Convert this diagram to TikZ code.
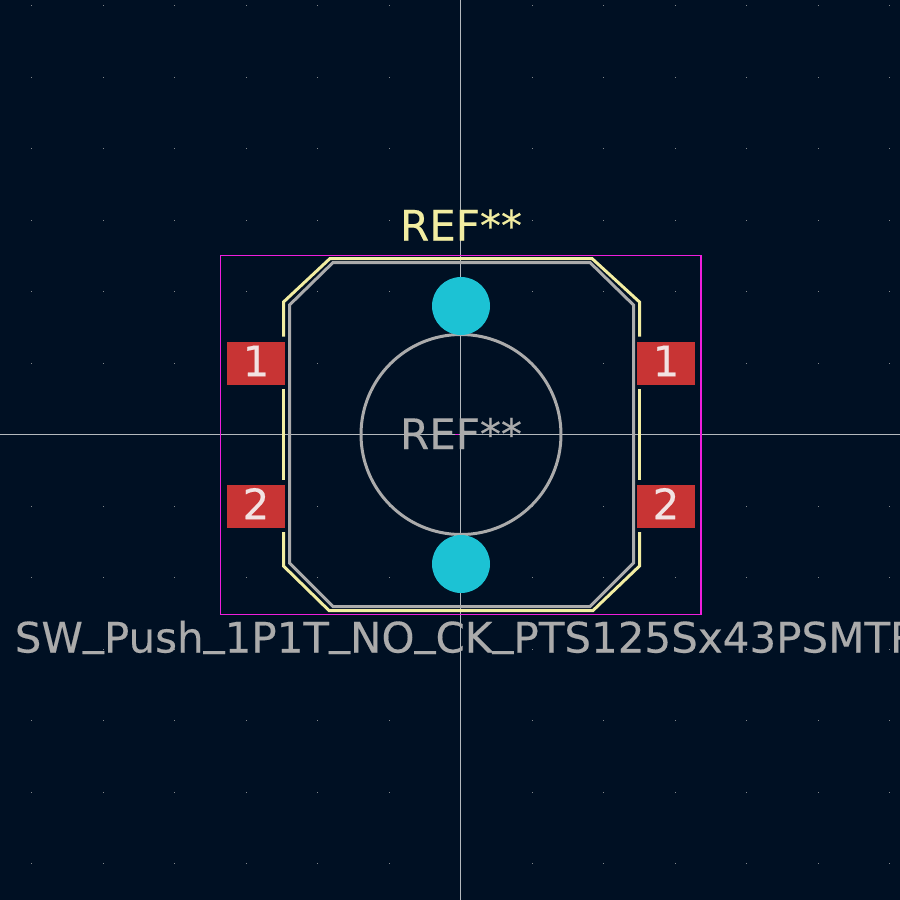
\documentclass[tikz,border=0pt]{standalone}
\usepackage{fontspec}
\setmainfont[FakeBold=0.3]{DejaVu Sans}
\definecolor{boardbg}{HTML}{001023}
\definecolor{silkcol}{HTML}{F2EDA1}
\definecolor{fabcol}{HTML}{ABABAB}
\definecolor{crtcol}{HTML}{F01EDC}
\definecolor{padcol}{HTML}{C83434}
\definecolor{holecol}{HTML}{1CC2D4}
\definecolor{crosscol}{HTML}{B4B9BD}
\definecolor{dotcol}{HTML}{84888C}
\definecolor{padtext}{HTML}{F2E2E2}
\newcommand{\fpbar}{\raisebox{.2em}{\_}}
\tikzset{
  silk/.style={draw=silkcol,line width=3pt,line join=miter},
  fab/.style={draw=fabcol,line width=3pt},
  crt/.style={draw=crtcol,line width=1.2pt},
  hole/.style={fill=holecol},
  padbox/.style={fill=padcol,text=padtext,minimum width=58pt,minimum height=43pt,inner sep=0pt,
    text height=30.6pt,text depth=5.2pt,font=\fontsize{42}{42}\selectfont},
  fptext/.style={anchor=base,inner sep=0pt,font=\fontsize{42}{42}\selectfont},
}
\begin{document}
\begin{tikzpicture}[x=1pt,y=-1pt]
  \useasboundingbox (0,0) rectangle (900,900);
  \clip (0,0) rectangle (900,900);
  \fill[boardbg] (0,0) rectangle (900,900);
  \foreach \i in {-6,...,6}
    \foreach \j in {-6,...,6} {
      \pgfmathsetmacro{\dotx}{ceil(460+71.5*\i)}
      \pgfmathsetmacro{\doty}{ceil(434+71.5*\j)}
      \fill[dotcol] (\dotx,\doty) rectangle ++(1,1);
    }
  \draw[crosscol,line width=1pt] (460.5,0) -- (460.5,900);
  \draw[crosscol,line width=1pt] (0,434.5) -- (900,434.5);
  \draw[crt] (220.5,255.5) rectangle (701,614.5);
  \draw[crtcol,line width=1pt] (455,434.5) -- (459,434.5);
  \draw[fab] (333,262.5) -- (590,262.5) -- (633.5,305) -- (633.5,563) -- (590,606.5)
    -- (333,606.5) -- (289.5,563) -- (289.5,305) -- cycle;
  \draw[fab] (461,434.5) circle (100);
  \draw[silk] (283.5,336.5) -- (283.5,302) -- (330,258.5) -- (592,258.5) -- (639.5,302) -- (639.5,336.5);
  \draw[silk] (283.5,389) -- (283.5,479.5);
  \draw[silk] (639.5,389) -- (639.5,479.5);
  \draw[silk] (283.5,532) -- (283.5,566) -- (329,610.5) -- (593,610.5) -- (639.5,566) -- (639.5,532);
  \node[padbox] (padA) at (256,363.5) {1};
  \node[padbox] (padB) at (256,506.5) {2};
  \node[padbox] (padC) at (666,363.5) {1};
  \node[padbox] (padD) at (666,506.5) {2};
  \fill[hole] (461,306) circle (29);
  \fill[hole] (461,564) circle (29);
  \node[fptext,text=silkcol] (refsilk) at (461,240.5) {REF**};
  \node[fptext,text=fabcol] (reffab) at (461,449) {REF**};
  \node[fptext,text=fabcol] (fpvalue) at (467,652.5) {SW\fpbar Push\fpbar 1P1T\fpbar NO\fpbar CK\fpbar PTS125Sx43PSMTR};
\end{tikzpicture}
\end{document}
